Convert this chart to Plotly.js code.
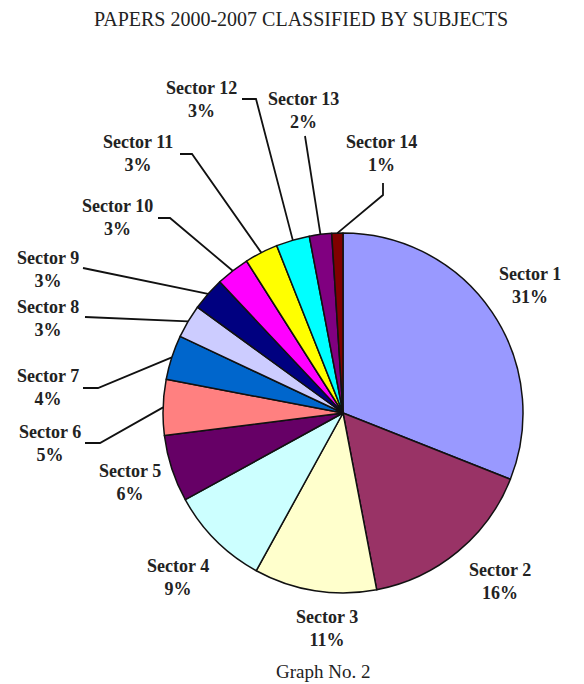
<!DOCTYPE html>
<html><head><meta charset="utf-8">
<script src="https://cdn.plot.ly/plotly-3.0.1.min.js"></script>
<style>html,body{margin:0;padding:0;background:#fff}</style>
</head><body><div id="chart" style="width:584px;height:684px"></div>
<script>
// ---- data ----
const categories = ['Sector 1','Sector 2','Sector 3','Sector 4','Sector 5','Sector 6','Sector 7',
  'Sector 8','Sector 9','Sector 10','Sector 11','Sector 12','Sector 13','Sector 14'];
const percents = [31,16,11,9,6,5,4,3,3,3,3,3,2,1];
const colors = ['#9999FF','#993366','#FFFFCC','#CCFFFF','#660066','#FF8080','#0066CC',
  '#CCCCFF','#000080','#FF00FF','#FFFF00','#00FFFF','#800080','#800000'];
const chartTitle = 'PAPERS 2000-2007 CLASSIFIED BY SUBJECTS';
const caption = 'Graph No. 2';

// ---- layout config (pixels) ----
const W = 584, H = 684;
const CX = 343, CY = 413, R = 180;
const labelPos = [[530,285],[500,581],[327,628],[178,577],[130,482],[50,443],[48,387],
  [48,318],[48,269],[117,218],[138,154],[201,99],[303,110],[381,153]];
// leader start and elbow points (text side), end computed on slice edge
const leaders = {
  5: [[85,443],[100,443]],
  6: [[83,388],[98,388]],
  7: [[85,317],[85,317]],
  8: [[83,268],[83,268]],
  9: [[158,218],[170,218]],
  10: [[180,154],[192,154]],
  11: [[242,99],[256,99]],
  12: [[305,136],[305,136]],
  13: [[383,183],[383,195]]
};

const px = x => x / W;
const py = y => 1 - y / H;

const total = percents.reduce((a,b)=>a+b,0);
let cum = 0;
const annotations = [];
const shapes = [];
const FONT = 'Liberation Serif, Times New Roman, serif';
percents.forEach((p,i)=>{
  const mid = (cum + p/2) / total;
  cum += p;
  const th = mid * 2 * Math.PI;
  const ex = CX + R * Math.sin(th), ey = CY - R * Math.cos(th);
  annotations.push({
    xref:'paper', yref:'paper', x: px(labelPos[i][0]), y: py(labelPos[i][1]),
    xanchor:'center', yanchor:'middle', showarrow:false, align:'center',
    text: categories[i] + '<br>' + p + '%',
    font:{family:FONT, size:18, color:'#222', weight:'bold'}
  });
  if (leaders[i]) {
    const [s, e] = leaders[i];
    shapes.push({
      type:'path', xref:'paper', yref:'paper',
      path:`M ${px(s[0])} ${py(s[1])} L ${px(e[0])} ${py(e[1])} L ${px(ex)} ${py(ey)}`,
      line:{color:'#111', width:1.8}
    });
  }
});

annotations.push({
  xref:'paper', yref:'paper', x: px(323), y: py(671), xanchor:'center', yanchor:'middle',
  showarrow:false, text: caption, font:{family:FONT, size:19, color:'#222'}
});

const trace = {
  type:'pie', labels: categories, values: percents, sort:false,
  direction:'clockwise', rotation:0, textinfo:'none', hoverinfo:'label+percent',
  marker:{colors: colors, line:{color:'#111', width:1.5}},
  domain:{x:[px(CX-R), px(CX+R)], y:[py(CY+R), py(CY-R)]},
  showlegend:false
};

const layout = {
  width: W, height: H, margin:{l:0,r:0,t:0,b:0},
  paper_bgcolor:'#fff', plot_bgcolor:'#fff',
  title:{text: chartTitle, x: px(301), xanchor:'center', y: py(19), yanchor:'middle', yref:'container',
    font:{family:FONT, size:20, color:'#222'}},
  annotations, shapes, showlegend:false
};
Plotly.newPlot('chart', [trace], layout, {displayModeBar:false, staticPlot:true});
</script></body></html>
